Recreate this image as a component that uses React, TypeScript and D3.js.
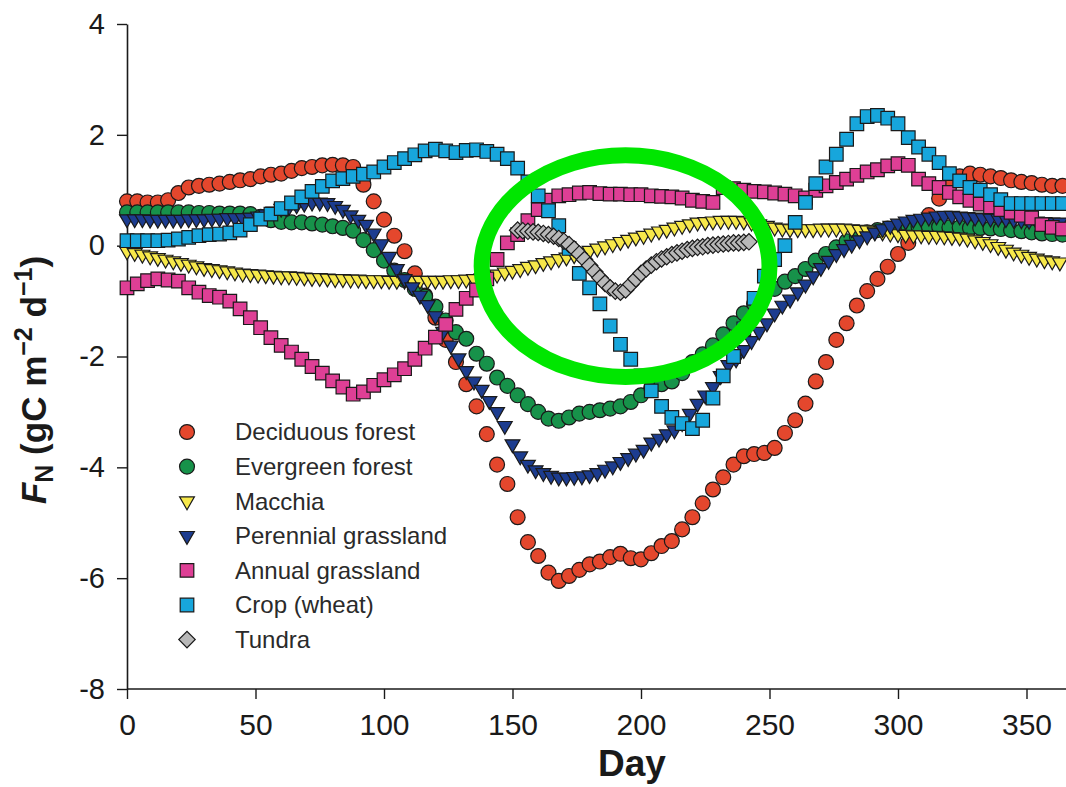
import React, { useEffect, useRef } from 'react';
import * as d3 from 'd3';

// days sampled for each series
const days4 = d3.range(0, 365, 4);
const days3 = d3.range(0, 364, 3);
const tundraDays = d3.range(152, 243, 2);

const deciduousForest = [
  0.80, 0.80, 0.78, 0.78, 0.82, 0.95, 1.05, 1.08, 1.10, 1.12,
  1.15, 1.18, 1.20, 1.25, 1.28, 1.30, 1.35, 1.40, 1.42, 1.45,
  1.46, 1.45, 1.42, 1.10, 0.80, 0.47, 0.18, -0.10, -0.50, -0.90,
  -1.30, -1.70, -2.10, -2.50, -2.90, -3.40, -3.95, -4.30, -4.90, -5.35,
  -5.60, -5.90, -6.05, -5.96, -5.85, -5.75, -5.70, -5.62, -5.56, -5.64,
  -5.66, -5.55, -5.42, -5.33, -5.12, -4.90, -4.65, -4.40, -4.18, -3.95,
  -3.80, -3.76, -3.74, -3.65, -3.38, -3.15, -2.85, -2.45, -2.10, -1.70,
  -1.40, -1.08, -0.82, -0.60, -0.38, -0.15, 0.05, 0.30, 0.55, 0.85,
  1.10, 1.25, 1.30, 1.28, 1.25, 1.22, 1.18, 1.15, 1.13, 1.10,
  1.08, 1.08,
];

const evergreenForest = [
  0.60, 0.60, 0.60, 0.60, 0.60, 0.60, 0.60, 0.59, 0.59, 0.58,
  0.58, 0.58, 0.57, 0.52, 0.46, 0.43, 0.42, 0.42, 0.40, 0.38,
  0.35, 0.32, 0.27, 0.10, -0.08, -0.27, -0.45, -0.62, -0.78, -0.92,
  -1.10, -1.35, -1.56, -1.68, -1.95, -2.13, -2.38, -2.53, -2.70, -2.86,
  -3.00, -3.12, -3.16, -3.10, -3.03, -3.00, -2.97, -2.94, -2.90, -2.82,
  -2.70, -2.56, -2.50, -2.45, -2.30, -2.10, -1.96, -1.80, -1.60, -1.40,
  -1.22, -1.05, -0.90, -0.78, -0.65, -0.55, -0.42, -0.27, -0.15, -0.03,
  0.08, 0.17, 0.24, 0.28, 0.31, 0.33, 0.34, 0.34, 0.34, 0.34,
  0.33, 0.33, 0.32, 0.32, 0.31, 0.30, 0.28, 0.26, 0.24, 0.22,
  0.21, 0.20,
];

const macchia = [
  -0.10, -0.13, -0.16, -0.19, -0.22, -0.25, -0.28, -0.31, -0.34, -0.37,
  -0.40, -0.42, -0.44, -0.46, -0.48, -0.50, -0.51, -0.52, -0.53, -0.54,
  -0.55, -0.55, -0.56, -0.57, -0.58, -0.58, -0.59, -0.60, -0.60, -0.61,
  -0.61, -0.62, -0.62, -0.62, -0.63, -0.63, -0.63, -0.63, -0.63, -0.63,
  -0.63, -0.63, -0.62, -0.62, -0.61, -0.60, -0.58, -0.55, -0.52, -0.48,
  -0.45, -0.42, -0.38, -0.35, -0.31, -0.28, -0.24, -0.21, -0.17, -0.13,
  -0.09, -0.05, -0.01, 0.03, 0.07, 0.11, 0.15, 0.18, 0.22, 0.26,
  0.29, 0.33, 0.36, 0.39, 0.42, 0.43, 0.44, 0.45, 0.45, 0.45,
  0.44, 0.42, 0.39, 0.36, 0.33, 0.31, 0.30, 0.30, 0.30, 0.30,
  0.31, 0.31, 0.31, 0.31, 0.30, 0.29, 0.28, 0.26, 0.24, 0.22,
  0.21, 0.20, 0.19, 0.19, 0.18, 0.18, 0.17, 0.16, 0.15, 0.13,
  0.10, 0.07, 0.03, -0.02, -0.07, -0.12, -0.16, -0.20, -0.23, -0.26,
  -0.28, -0.30,
];

const perennialGrassland = [
  0.48, 0.48, 0.48, 0.47, 0.47, 0.47, 0.47, 0.47, 0.48, 0.48,
  0.48, 0.49, 0.49, 0.50, 0.50, 0.50, 0.51, 0.53, 0.57, 0.62,
  0.67, 0.70, 0.73, 0.76, 0.78, 0.78, 0.77, 0.72, 0.65, 0.55,
  0.47, 0.38, 0.22, 0.03, -0.20, -0.42, -0.60, -0.75, -0.90, -1.07,
  -1.27, -1.55, -1.80, -2.03, -2.26, -2.45, -2.60, -2.80, -3.00, -3.25,
  -3.58, -3.80, -3.95, -4.05, -4.10, -4.15, -4.18, -4.18, -4.17, -4.16,
  -4.14, -4.10, -4.04, -3.98, -3.90, -3.83, -3.75, -3.68, -3.55, -3.48,
  -3.40, -3.33, -3.20, -3.03, -2.85, -2.70, -2.55, -2.35, -2.15, -2.05,
  -1.88, -1.72, -1.55, -1.40, -1.22, -1.08, -0.97, -0.84, -0.70, -0.55,
  -0.40, -0.27, -0.15, -0.06, 0.02, 0.10, 0.17, 0.24, 0.30, 0.36,
  0.40, 0.44, 0.47, 0.49, 0.51, 0.53, 0.54, 0.54, 0.53, 0.52,
  0.51, 0.50, 0.49, 0.49, 0.48, 0.47, 0.46, 0.45, 0.44, 0.43,
  0.42, 0.42,
];

const annualGrassland = [
  -0.76, -0.69, -0.63, -0.60, -0.62, -0.64, -0.76, -0.84, -0.90, -0.93,
  -1.00, -1.14, -1.30, -1.48, -1.66, -1.80, -1.92, -2.05, -2.18, -2.30,
  -2.44, -2.55, -2.68, -2.64, -2.52, -2.42, -2.33, -2.22, -2.05, -1.85,
  -1.65, -1.42, -1.15, -0.95, -0.80, -0.60, -0.25, 0.05, 0.20, 0.45,
  0.65, 0.82, 0.90, 0.92, 0.95, 0.96, 0.94, 0.93, 0.93, 0.92,
  0.92, 0.90, 0.89, 0.88, 0.86, 0.82, 0.80, 0.78, 1.05, 1.03,
  1.00, 0.98, 0.97, 0.95, 0.93, 0.90, 0.86, 1.00, 1.08, 1.14,
  1.20, 1.27, 1.33, 1.37, 1.44, 1.48, 1.45, 1.20, 1.12, 1.05,
  0.96, 0.88, 0.82, 0.75, 0.70, 0.65, 0.60, 0.55, 0.50, 0.38,
  0.33, 0.30,
];

const cropWheat = [
  0.09, 0.09, 0.09, 0.09, 0.10, 0.12, 0.15, 0.18, 0.20, 0.21,
  0.23, 0.28, 0.38, 0.48, 0.57, 0.67, 0.77, 0.88, 0.98, 1.07,
  1.17, 1.21, 1.25, 1.29, 1.33, 1.42, 1.50, 1.57, 1.64, 1.71,
  1.74, 1.71, 1.68, 1.72, 1.73, 1.70, 1.65, 1.57, 1.40, 1.15,
  0.90, 0.63, 0.36, -0.05, -0.50, -0.76, -1.05, -1.45, -1.78, -2.05,
  -2.35, -2.62, -2.90, -3.10, -3.21, -3.30, -3.15, -2.75, -2.35, -2.00,
  -1.50, -0.95, -0.55, -0.25, 0.00, 0.42, 0.78, 1.12, 1.42, 1.65,
  1.92, 2.20, 2.33, 2.35, 2.30, 2.20, 1.95, 1.78, 1.65, 1.50,
  1.30, 1.17, 1.05, 1.00, 0.92, 0.83, 0.76, 0.76, 0.76, 0.76,
  0.76, 0.76,
];

const tundra = [
  0.28, 0.27, 0.26, 0.25, 0.24, 0.22, 0.20, 0.17, 0.13, 0.08,
  0.02, -0.06, -0.15, -0.25, -0.36, -0.47, -0.58, -0.68, -0.76, -0.82,
  -0.84, -0.80, -0.70, -0.60, -0.50, -0.42, -0.35, -0.29, -0.24, -0.20,
  -0.16, -0.13, -0.10, -0.07, -0.05, -0.03, -0.02, 0.00, 0.01, 0.02,
  0.03, 0.04, 0.05, 0.05, 0.06, 0.07,
];

const xTicks = [0, 50, 100, 150, 200, 250, 300, 350];
const yTicks = [4, 2, 0, -2, -4, -6, -8];

const series = [
  { name: 'Deciduous forest', days: days4, values: deciduousForest, shape: 'circle', color: '#e4472d' },
  { name: 'Evergreen forest', days: days4, values: evergreenForest, shape: 'circle', color: '#17924a' },
  { name: 'Macchia', days: days3, values: macchia, shape: 'triangle', color: '#f7e84a' },
  { name: 'Perennial grassland', days: days3, values: perennialGrassland, shape: 'triangle', color: '#1c3c8f' },
  { name: 'Annual grassland', days: days4, values: annualGrassland, shape: 'square', color: '#de3f95' },
  { name: 'Crop (wheat)', days: days4, values: cropWheat, shape: 'square', color: '#17a6dc' },
  { name: 'Tundra', days: tundraDays, values: tundra, shape: 'diamond', color: '#b8b8b8' },
];

const FONT = '"Liberation Sans", Arial, Helvetica, sans-serif';

const symbolPath = {
  circle: d3.symbol(d3.symbolCircle, 175)(),
  square: d3.symbol(d3.symbolSquare, 185)(),
  triangle: d3.symbol(d3.symbolTriangle, 95)(),
  diamond: d3.symbol(d3.symbolSquare, 135)(),
};
const symbolRotate = { circle: 0, square: 0, triangle: 180, diamond: 45 };

const Marker = ({ shape, color, tx, ty }) => (
  <path
    d={symbolPath[shape]}
    transform={`translate(${tx},${ty}) rotate(${symbolRotate[shape]})`}
    fill={color}
    stroke="#1a1a1a"
    strokeWidth={1.2}
  />
);

const App = () => {
  const width = 1066;
  const height = 787;
  const margin = { left: 127, top: 24, bottom: 98 };

  const xAxisRef = useRef(null);
  const yAxisRef = useRef(null);

  const x = d3.scaleLinear().domain([0, 365]).range([margin.left, margin.left + 365 * 2.57]);
  const y = d3.scaleLinear().domain([-8, 4]).range([height - margin.bottom, margin.top]);

  useEffect(() => {
    const xAxis = d3.axisBottom(x).tickValues(xTicks).tickSize(10).tickSizeOuter(0).tickPadding(15).tickFormat(d => String(d));
    const yAxis = d3.axisLeft(y).tickValues(yTicks).tickSize(10).tickSizeOuter(0).tickPadding(12).tickFormat(d => String(d));

    const gx = d3.select(xAxisRef.current).call(xAxis);
    const gy = d3.select(yAxisRef.current).call(yAxis);

    gx.select('.domain').attr('stroke', '#1a1a1a').attr('stroke-width', 1.6).attr('d', `M${x(0)},0H${width}`);
    gy.select('.domain').attr('stroke', '#1a1a1a').attr('stroke-width', 1.6);
    gx.selectAll('.tick line').attr('stroke', '#1a1a1a').attr('stroke-width', 1.4);
    gy.selectAll('.tick line').attr('stroke', '#1a1a1a').attr('stroke-width', 1.4);
    gx.selectAll('.tick text').attr('font-size', 30).attr('font-family', FONT).attr('fill', '#1a1a1a');
    gy.selectAll('.tick text').attr('font-size', 29).attr('font-family', FONT).attr('fill', '#1a1a1a');
  }, []);

  const legendX = 187;
  const legendY = 432;
  const legendStep = 34.6;

  return (
    <svg
      width={width}
      height={height}
      style={{ position: 'absolute', left: 0, top: 0, background: '#fff' }}
    >
      <g ref={yAxisRef} transform={`translate(${margin.left},0)`} />
      <g ref={xAxisRef} transform={`translate(0,${y(-8)})`} />

      {/* data markers */}
      {series.map(s => (
        <g key={s.name}>
          {s.values.map((v, i) => (
            <Marker key={i} shape={s.shape} color={s.color} tx={x(s.days[i])} ty={y(v)} />
          ))}
        </g>
      ))}

      {/* highlight ellipse around tundra */}
      <ellipse
        cx={x(194)}
        cy={y(-0.37)}
        rx={x(56) - x(0)}
        ry={y(0) - y(2)}
        fill="none"
        stroke="#00e600"
        strokeWidth={16}
      />

      {/* legend */}
      {series.map((s, i) => (
        <g key={s.name} transform={`translate(0,${legendY + i * legendStep})`}>
          <Marker shape={s.shape} color={s.color} tx={legendX} ty={0} />
          <text x={235} y={0} dy="0.35em" fontSize={24} fontFamily={FONT} fill="#2a2a2a">
            {s.name}
          </text>
        </g>
      ))}

      {/* axis titles */}
      <text x={632} y={776} textAnchor="middle" fontSize={37} fontWeight="bold" fontFamily={FONT} fill="#1a1a1a">
        Day
      </text>
      <text
        transform={`translate(46,380) rotate(-90)`}
        textAnchor="middle"
        fontSize={35}
        fontWeight="bold"
        fontFamily={FONT}
        fill="#1a1a1a"
      >
        <tspan fontStyle="italic">F</tspan>
        <tspan fontSize={25} dy={7}>N</tspan>
        <tspan dy={-7}> (gC m</tspan>
        <tspan fontSize={25} dy={-14}>−2</tspan>
        <tspan dy={14}> d</tspan>
        <tspan fontSize={25} dy={-14}>−1</tspan>
        <tspan dy={14}>)</tspan>
      </text>
    </svg>
  );
};

export default App;
